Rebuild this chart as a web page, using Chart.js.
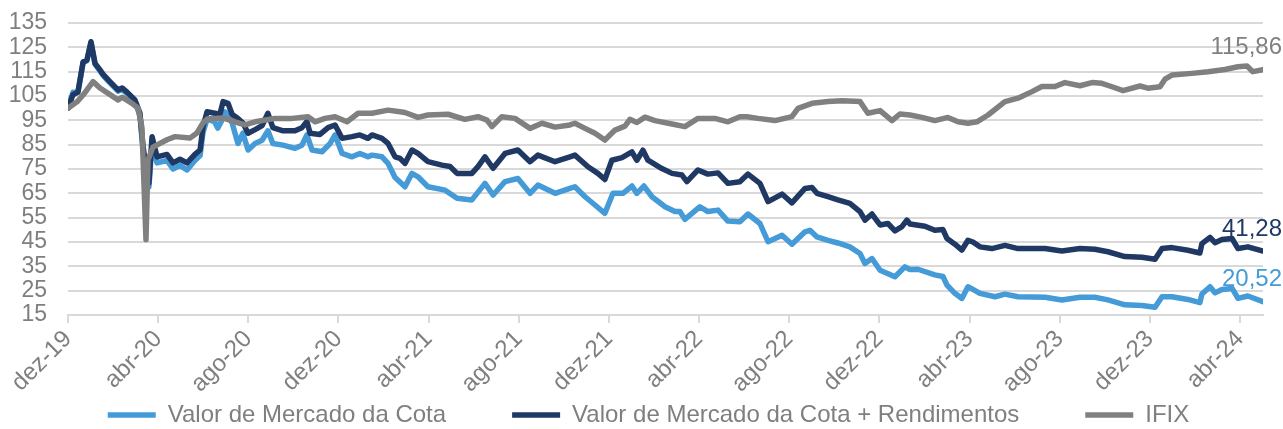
<!DOCTYPE html>
<html>
<head>
<meta charset="utf-8">
<script src="https://cdn.jsdelivr.net/npm/chart.js@4.4.1/dist/chart.umd.min.js"></script>
<style>
  html, body { margin: 0; padding: 0; background: #ffffff; }
  #wrap { width: 1283px; height: 429px; }
</style>
</head>
<body>
<div id="wrap"><canvas id="c" width="1283" height="429"></canvas></div>
<script>
// x values: months since 1 Dec 2019
const tickMonths = [0, 4, 8, 12, 16, 20, 24, 28, 32, 36, 40, 44, 48, 52];
const tickLabels = ['dez-19','abr-20','ago-20','dez-20','abr-21','ago-21','dez-21','abr-22','ago-22','dez-22','abr-23','ago-23','dez-23','abr-24'];
const yTicks = [15, 25, 35, 45, 55, 65, 75, 85, 95, 105, 115, 125, 135];

const seriesNames = ['Valor de Mercado da Cota', 'Valor de Mercado da Cota + Rendimentos', 'IFIX'];

const cotaMonths = [0.00,0.22,0.44,0.67,0.84,1.02,1.20,1.42,1.55,1.86,2.22,2.40,2.62,2.97,3.19,3.33,3.50,3.59,3.73,3.95,4.39,4.66,4.97,5.28,5.63,5.86,5.99,6.17,6.50,6.65,6.88,6.97,7.28,7.41,7.54,7.76,7.99,8.30,8.61,8.87,9.09,9.54,10.07,10.38,10.60,10.83,11.27,11.63,11.85,12.16,12.60,12.95,13.31,13.49,13.93,14.20,14.51,14.95,15.26,15.53,15.97,16.73,17.26,17.92,18.50,18.86,19.39,19.96,20.50,20.85,21.61,22.27,22.49,22.94,23.38,23.82,24.18,24.62,25.02,25.24,25.55,25.91,26.49,26.93,27.15,27.37,28.04,28.39,28.84,29.28,29.81,30.17,30.70,31.06,31.68,32.12,32.70,32.92,33.23,33.72,34.16,34.69,35.14,35.36,35.67,36.03,36.69,37.13,37.36,37.71,38.46,38.82,39.00,39.35,39.66,39.93,40.15,40.46,41.13,41.57,42.15,43.35,44.10,44.90,45.56,46.14,46.89,47.65,48.23,48.54,48.98,49.69,50.22,50.31,50.67,50.89,51.20,51.65,51.91,52.35,53.02];
const cotaValues = [100,106.5,106.4,118.8,119.5,127,118,115.3,113.5,110.4,107,107.7,106,102.7,97,82.5,71,67.6,86,77.5,78.5,75,76.5,74.6,78.5,80.5,90,95.5,94.5,91.8,96,98.5,94,89.7,85.5,89.7,82.8,85.5,86.8,90.7,85.5,84.8,83.5,84.8,89,82.8,82.1,85.5,89,81.4,80,81.4,80,80.7,80,77.3,71.5,67.7,73.2,71.8,67.7,66.3,63,62.3,69.1,64.3,69.8,71.1,65,68.4,65,67,67.7,63.6,60.2,56.8,65,65,68,65,68,63.6,59.5,57.5,57.5,54.3,59.5,57.5,58.1,53.6,53.3,56.5,52.6,45.1,47.8,44.1,49.2,49.8,47.1,45.7,44.6,43,40.3,36.2,38.2,33.4,30.7,34.8,33.7,33.8,31.5,30.8,27.3,23.9,21.8,26.6,25.5,23.9,22.5,23.6,22.5,22.3,21.2,22.3,22.3,21.2,19.2,18.9,18.2,22.5,22.5,21.4,20.1,23.6,26.6,24.1,25.5,25.9,21.8,22.8,20.52];

const rendMonths = [0.00,0.22,0.44,0.67,0.84,1.02,1.20,1.42,1.55,1.86,2.22,2.40,2.62,2.97,3.19,3.33,3.50,3.59,3.73,3.95,4.39,4.66,4.97,5.28,5.63,5.86,5.99,6.17,6.74,6.88,7.10,7.28,7.54,7.76,7.99,8.30,8.61,8.87,9.09,9.54,10.07,10.38,10.60,10.74,11.18,11.54,11.85,12.16,12.60,12.95,13.31,13.49,13.93,14.20,14.51,14.73,14.95,15.26,15.53,15.97,16.59,16.95,17.26,17.92,18.19,18.50,18.86,19.39,19.96,20.50,20.85,21.61,22.27,22.49,23.07,23.51,23.82,24.13,24.58,25.02,25.24,25.51,25.73,26.35,26.80,27.24,27.46,27.95,28.39,28.84,29.28,29.81,30.17,30.70,31.06,31.68,32.12,32.70,33.01,33.23,33.72,34.16,34.69,35.14,35.36,35.67,36.03,36.38,36.69,37.00,37.22,37.36,38.02,38.46,38.82,39.00,39.35,39.66,39.93,40.15,40.46,40.99,41.57,42.15,43.35,44.10,44.90,45.56,46.14,46.89,47.65,48.23,48.54,48.98,49.69,50.22,50.31,50.67,50.89,51.20,51.65,51.91,52.35,53.02];
const rendValues = [100,105.5,106.6,119,119.8,127.3,118.4,115.7,114,110.9,107.5,108.3,106.6,103.4,98,84.2,73.3,69.2,88.3,80,81,77.5,79,77.5,81,82.8,92.4,98.5,97.5,102.7,102,97.5,95.8,93.9,89.7,91.2,92.8,97.9,92,90.7,90.7,92,94.5,89.7,89.2,92,93.1,87.6,88.3,89,87.6,89,87.6,85.5,80,79.4,77.3,82.8,81.4,78,76.6,76,73.2,73.2,76,80,75.3,81.4,82.8,78,80.7,78,80,80.7,75.9,73.2,70.7,78.6,79.7,82,78.6,82.7,78.6,75.2,73.2,72.5,69.8,74.6,72.9,73.4,69.1,69.8,72.9,69.1,61.6,64.7,61.1,67,67.4,65,63.6,62.3,60.9,57.5,54,56.5,52,52.6,49.6,51.3,54,52.4,51.5,49.8,50.1,46.4,44.1,41.7,45.7,45,43,42.3,43.6,42.3,42.3,41.3,42.3,42,41,39,38.7,37.9,42.3,42.7,41.6,40.5,44.3,46.9,44.7,46,46.4,42.3,43,41.28];

const ifixMonths = [0.00,0.40,0.67,1.11,1.42,2.22,2.40,2.84,3.11,3.28,3.46,3.55,3.77,4.39,4.75,5.41,5.72,5.99,6.17,6.88,7.41,7.85,8.30,9.18,9.94,10.65,10.96,11.40,11.85,12.38,12.87,13.49,14.20,14.73,14.95,15.53,15.97,16.86,17.61,18.19,18.59,18.81,19.25,19.83,20.50,21.03,21.61,22.27,22.49,22.94,23.38,23.82,24.27,24.71,24.93,25.24,25.60,26.04,26.80,27.37,27.95,28.70,29.28,29.81,30.12,30.61,31.37,32.12,32.39,33.01,33.72,34.34,35.14,35.49,36.03,36.56,36.91,37.36,37.89,38.46,39.04,39.49,39.93,40.33,40.82,41.57,42.15,42.77,43.21,43.79,44.23,44.90,45.43,45.87,46.32,46.81,47.56,47.91,48.45,48.67,48.98,49.87,50.58,51.33,51.91,52.31,52.57,53.02];
const ifixValues = [100,102.6,105.4,110.9,108.3,103.4,104.5,102,100,92,46,78.7,84,87,88.3,87.7,89.8,93.9,95.5,96,94.4,93.1,94.4,95.8,95.8,96.5,94.4,95.8,96.5,94.4,97.9,97.9,99.2,98.5,98.2,96.2,97.2,97.5,95.4,96.5,95.1,92.4,96.5,95.8,91.7,93.8,92.2,93.1,93.8,91.7,89.7,86.9,91,92.6,95.4,94.1,96.3,94.9,93.5,92.4,95.8,95.8,94.4,96.5,96.5,95.8,94.9,96.5,99.9,102,102.7,103,102.7,97.9,99,94.9,97.6,97.2,96.2,94.9,96.2,94.4,93.8,94.4,97.2,102.7,104.1,106.8,108.9,108.9,110.5,109.2,110.5,110.2,108.8,107.2,109.1,108.2,108.8,111.9,113.6,114.3,115,115.9,117,117.3,115,115.86];

const colors = ['#449BD7', '#1F3864', '#808080'];
const textGray = '#7f7f7f';
const gridGray = '#d9d9d9';

function pairs(xs, ys) { return xs.map((x, i) => ({ x: x, y: ys[i] })); }

Chart.defaults.font.family = '"Liberation Sans", Arial, Helvetica, sans-serif';
Chart.defaults.color = textGray;

// value labels at the end of each series
const endLabels = {
  id: 'endLabels',
  afterDatasetsDraw(chart) {
    const ctx = chart.ctx;
    chart.data.datasets.forEach((ds, i) => {
      const meta = chart.getDatasetMeta(i);
      const pt = meta.data[meta.data.length - 1];
      const v = ds.data[ds.data.length - 1].y;
      ctx.save();
      ctx.font = '24px "Liberation Sans", Arial, sans-serif';
      ctx.fillStyle = ds.borderColor;
      ctx.textAlign = 'right';
      ctx.textBaseline = 'middle';
      ctx.fillText(v.toFixed(2).replace('.', ','), chart.width - 1, pt.y - 22);
      ctx.restore();
    });
  }
};

// place the legend row (its label padding also sets the gap between items)
const legendPlace = {
  id: 'legendPlace',
  afterLayout(chart) {
    const lg = chart.legend;
    const p = lg.options.labels.padding;
    const fs = lg.options.labels.font.size;
    lg.top = 415 - p - fs / 2;
    lg.height = p + fs + 10;
    lg.bottom = lg.top + lg.height;
    lg.left = 34;
    lg.right = 1263;
    lg.width = lg.right - lg.left;
  }
};

const mk = (label, xs, ys, color, order) => ({
  label: label,
  data: pairs(xs, ys),
  borderColor: color,
  backgroundColor: color,
  borderWidth: 5.5,
  borderCapStyle: 'round',
  borderJoinStyle: 'round',
  pointRadius: 0,
  pointHoverRadius: 0,
  tension: 0,
  fill: false,
  order: order
});

new Chart(document.getElementById('c'), {
  type: 'line',
  data: {
    datasets: [
      mk(seriesNames[0], cotaMonths, cotaValues, colors[0], 2),
      mk(seriesNames[1], rendMonths, rendValues, colors[1], 1),
      mk(seriesNames[2], ifixMonths, ifixValues, colors[2], 0)
    ]
  },
  options: {
    responsive: false,
    animation: false,
    devicePixelRatio: 1,
    layout: { padding: { top: 23, left: 0, right: 20, bottom: 0 } },
    plugins: {
      tooltip: { enabled: false },
      legend: {
        position: 'bottom',
        maxHeight: 1,
        labels: {
          usePointStyle: true,
          pointStyle: 'line',
          pointStyleWidth: 48,
          padding: 66,
          color: textGray,
          font: { size: 24 },
          sort: (a, b) => a.datasetIndex - b.datasetIndex
        }
      }
    },
    scales: {
      x: {
        type: 'linear',
        min: tickMonths[0],
        max: cotaMonths[cotaMonths.length - 1],
        afterBuildTicks: (axis) => { axis.ticks = tickMonths.map(v => ({ value: v })); },
        afterFit: (s) => { s.height = 113; },
        grid: { drawOnChartArea: false, drawTicks: true, tickLength: 8, color: gridGray, lineWidth: 2 },
        border: { display: true, color: gridGray, width: 2 },
        ticks: {
          autoSkip: false,
          minRotation: 45,
          maxRotation: 45,
          padding: 2,
          color: textGray,
          font: { size: 24 },
          callback: (v) => { const i = tickMonths.indexOf(v); return i >= 0 ? tickLabels[i] : ''; }
        }
      },
      y: {
        min: yTicks[0],
        max: yTicks[yTicks.length - 1],
        afterBuildTicks: (axis) => { axis.ticks = yTicks.map(v => ({ value: v })); },
        afterFit: (s) => { s.width = 68; },
        grid: { drawTicks: true, tickLength: 21, tickColor: 'rgba(0,0,0,0)', color: gridGray, lineWidth: 2 },
        border: { display: false },
        ticks: { autoSkip: false, padding: 0, color: textGray, font: { size: 23 } }
      }
    }
  },
  plugins: [endLabels, legendPlace]
});
</script>
</body>
</html>
